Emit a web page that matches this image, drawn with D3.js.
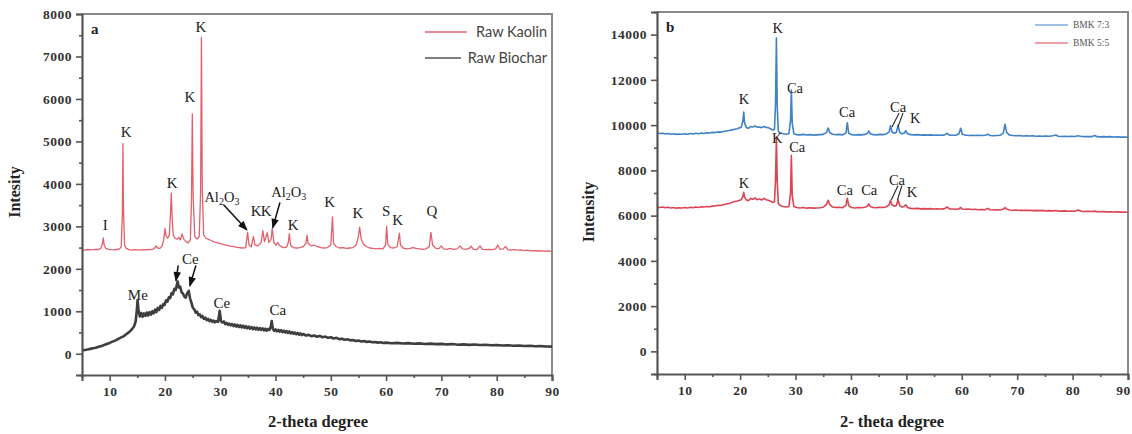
<!DOCTYPE html>
<html>
<head>
<meta charset="utf-8">
<script src="https://cdn.jsdelivr.net/npm/d3@7"></script>
<style>
  html, body { margin: 0; padding: 0; background: #fff; }
  svg { display: block; }
</style>
</head>
<body>
<div id="chart"></div>
<script>
// XRD patterns, panel a (raw materials) and panel b (BMK blends)
const xTicks = [10, 20, 30, 40, 50, 60, 70, 80, 90];
const xMinor = [5, 15, 25, 35, 45, 55, 65, 75, 85];
const yTicksA = [0, 1000, 2000, 3000, 4000, 5000, 6000, 7000, 8000];
const yMinorA = [-500, 500, 1500, 2500, 3500, 4500, 5500, 6500, 7500];
const yTicksB = [0, 2000, 4000, 6000, 8000, 10000, 12000, 14000];
const yMinorB = [-1000, 1000, 3000, 5000, 7000, 9000, 11000, 13000, 15000];

const seriesA = ["Raw Kaolin", "Raw Biochar"];
const seriesB = ["BMK 7:3", "BMK 5:5"];

// [2-theta, intensity]
const rawKaolin = [[5,2450],[5.5,2440],[6,2455],[6.5,2445],[7,2450],[7.5,2460],[8,2455],[8.4,2480],[8.7,2600],[8.85,2730],[9.0,2560],[9.3,2480],[9.8,2460],[10.3,2450],[10.8,2445],[11.3,2455],[11.8,2470],[12.1,2520],[12.3,3300],[12.4,4950],[12.5,3400],[12.7,2560],[13,2480],[13.5,2450],[14,2440],[14.5,2450],[15,2445],[15.5,2440],[16,2450],[16.5,2445],[17,2455],[17.5,2450],[18,2470],[18.4,2540],[18.7,2490],[19.1,2480],[19.5,2540],[19.8,2700],[20.0,2950],[20.2,2780],[20.5,2720],[20.8,2800],[21.0,3300],[21.15,3780],[21.3,3200],[21.5,2800],[21.8,2720],[22.2,2700],[22.5,2740],[22.8,2680],[23.1,2820],[23.4,2700],[23.8,2640],[24.2,2610],[24.6,2680],[24.8,3600],[24.95,5650],[25.1,3700],[25.4,2760],[25.8,2700],[26.2,2760],[26.45,3800],[26.6,7450],[26.75,3900],[27,2800],[27.4,2720],[28,2690],[28.6,2650],[29.2,2620],[29.8,2600],[30.4,2580],[31,2560],[31.6,2540],[32.2,2530],[32.8,2510],[33.4,2500],[34,2490],[34.6,2500],[34.95,2860],[35.2,2560],[35.6,2520],[36.0,2760],[36.3,2560],[36.8,2540],[37.4,2620],[37.7,2900],[38.0,2640],[38.5,2850],[38.8,2620],[39.2,2700],[39.4,2950],[39.7,2620],[40.1,2560],[40.4,2620],[40.8,2540],[41.4,2500],[42.0,2510],[42.3,2620],[42.5,2830],[42.7,2560],[43.2,2500],[43.8,2490],[44.4,2500],[45.0,2520],[45.5,2600],[45.7,2790],[45.9,2600],[46.4,2540],[47,2560],[47.6,2520],[48.2,2500],[48.8,2490],[49.4,2500],[50.0,2560],[50.3,3220],[50.5,2600],[51,2520],[51.6,2490],[52.2,2500],[52.8,2480],[53.4,2490],[54,2500],[54.6,2560],[55.0,2780],[55.2,2980],[55.5,2700],[55.9,2580],[56.5,2520],[57,2490],[57.6,2480],[58.2,2470],[58.8,2480],[59.4,2470],[59.9,2560],[60.1,3000],[60.3,2580],[60.8,2500],[61.4,2490],[62.0,2520],[62.4,2840],[62.6,2560],[63.1,2490],[63.7,2470],[64.3,2480],[64.9,2500],[65.4,2480],[66,2470],[66.6,2460],[67.2,2470],[67.8,2520],[68.1,2860],[68.4,2560],[68.9,2490],[69.5,2470],[70.0,2540],[70.4,2470],[71,2460],[71.6,2480],[72.2,2460],[72.8,2470],[73.4,2540],[73.8,2470],[74.4,2460],[75,2480],[75.4,2530],[75.8,2460],[76.4,2450],[77,2540],[77.4,2460],[78,2450],[78.6,2460],[79.2,2450],[79.8,2470],[80.2,2560],[80.6,2460],[81.2,2470],[81.6,2530],[82,2450],[82.6,2440],[83.2,2450],[83.8,2440],[84.4,2445],[85,2430],[85.6,2440],[86.2,2425],[86.8,2430],[87.4,2420],[88,2425],[88.6,2415],[89.2,2420],[90,2410]];

const rawBiochar = [[5,80],[5.5,90],[6,100],[6.5,115],[7,130],[7.5,140],[8,165],[8.5,180],[9,205],[9.5,230],[10,255],[10.5,285],[11,310],[11.5,345],[12,380],[12.5,410],[13,460],[13.5,510],[14,570],[14.4,640],[14.7,760],[14.9,1000],[15.05,1260],
  [15.2,1050],[15.45,880],[15.7,960],[15.95,870],[16.2,950],[16.45,890],[16.7,970],[16.95,900],[17.2,980],[17.45,920],[17.7,1000],[17.95,950],[18.2,1040],[18.45,980],[18.7,1080],[18.95,1030],[19.2,1130],[19.45,1080],[19.7,1170],[19.95,1150],[20.2,1260],[20.45,1230],[20.7,1330],[20.95,1310],[21.2,1430],[21.45,1400],[21.7,1530],[21.95,1500],[22.15,1620],[22.3,1700],[22.5,1560],[22.75,1580],[23.0,1450],[23.25,1420],[23.5,1350],[23.75,1320],[24.0,1420],[24.3,1480],[24.55,1300],[24.8,1200],[25.05,1080],[25.3,1050],[25.55,970],[25.8,990],[26.05,910],[26.3,930],[26.55,860],[26.8,890],[27.05,820],[27.3,850],[27.55,790],[27.8,820],[28.05,770],[28.3,800],[28.55,750],[28.8,780],[29.05,740],[29.3,770],[29.6,750],[29.9,1010],[30.15,760],[30.4,740],[30.65,760],[30.9,700],[31.15,730],[31.4,680],[31.65,710],[31.9,670],[32.15,700],[32.4,650],[32.65,690],[32.9,640],[33.15,680],[33.4,630],[33.65,670],[33.9,620],[34.15,660],[34.4,610],[34.65,650],[34.9,600],[35.15,640],[35.4,590],[35.65,630],[35.9,580],[36.15,620],[36.4,575],[36.65,615],[36.9,565],[37.15,605],[37.4,560],[37.65,600],[37.9,550],[38.15,590],[38.4,545],[38.65,585],[38.9,560],[39.15,640],[39.3,770],[39.5,600],[39.75,540],[40,575],[40.25,530],[40.5,565],[40.75,520],[41,555],[41.25,510],[41.5,545],[41.75,500],[42,535],[42.25,490],[42.5,525],[42.75,480],[43,510],[43.25,470],[43.5,500],[43.75,460],[44,490],[44.25,450],[44.5,480],[44.75,440],[45,465],
  [45.5,430],[46,445],[46.5,415],[47,430],[47.5,400],[48,420],[48.5,390],[49,405],[49.5,375],[50,390],[50.5,360],[51,375],[51.5,345],[52,355],[52.5,330],[53,340],[53.5,315],[54,325],[54.5,300],[55,310],[55.5,290],[56,298],[56.5,280],[57,288],[57.5,270],[58,278],[58.5,262],[59,270],[59.5,255],[60,262],[61,248],[62,256],[63,240],[64,250],[65,236],[66,244],[67,230],[68,238],[69,226],[70,232],[71,220],[72,228],[73,214],[74,222],[75,210],[76,218],[77,206],[78,212],[79,200],[80,208],[81,196],[82,202],[83,190],[84,196],[85,184],[86,188],[87,176],[88,180],[89,170],[90,168]];

const bmk73 = [[5,9650],[5.5,9630],[6,9640],[6.5,9610],[7,9630],[7.5,9600],[8,9620],[8.5,9590],[9,9610],[9.5,9600],[10,9620],[10.5,9600],[11,9630],[11.5,9610],[12,9640],[12.5,9620],[13,9650],[13.5,9630],[14,9660],[14.5,9650],[15,9680],[15.5,9670],[16,9700],[16.5,9690],[17,9720],[17.5,9740],[18,9760],[18.5,9790],[19,9820],[19.5,9840],[19.9,9880],[20.2,9900],[20.5,10200],[20.65,10580],[20.8,10100],[21.1,9900],[21.5,9860],[21.9,9940],[22.3,9920],[22.7,9960],[23.1,9900],[23.5,9920],[23.9,9890],[24.3,9940],[24.7,9900],[25.1,9880],[25.5,9840],[25.9,9780],[26.2,9820],[26.4,11000],[26.55,13850],[26.7,10800],[26.9,9720],[27.3,9650],[27.8,9620],[28.3,9600],[28.8,9620],[29.1,10200],[29.25,11550],[29.4,10100],[29.7,9620],[30.2,9580],[30.8,9570],[31.4,9590],[32,9560],[32.6,9580],[33.2,9560],[33.8,9570],[34.4,9580],[35,9590],[35.6,9680],[35.9,9870],[36.2,9660],[36.7,9600],[37.3,9580],[37.9,9590],[38.5,9570],[39.1,9650],[39.35,10100],[39.6,9640],[40.1,9580],[40.7,9560],[41.3,9580],[41.9,9570],[42.5,9590],[43.0,9640],[43.2,9740],[43.5,9620],[44,9580],[44.6,9570],[45.2,9590],[45.8,9580],[46.4,9610],[46.9,9700],[47.15,9980],[47.4,9700],[47.8,9640],[48.2,9680],[48.5,10000],[48.8,9680],[49.2,9620],[49.6,9640],[49.9,9750],[50.2,9620],[50.8,9580],[51.4,9570],[52,9580],[52.6,9560],[53.2,9570],[53.8,9560],[54.4,9570],[55,9550],[55.6,9560],[56.2,9550],[56.8,9560],[57.4,9640],[57.8,9560],[58.4,9550],[59,9560],[59.5,9620],[59.8,9860],[60.1,9600],[60.6,9560],[61.2,9540],[61.8,9550],[62.4,9540],[63,9550],[63.6,9540],[64.2,9550],[64.7,9600],[65.1,9540],[65.7,9530],[66.3,9540],[66.9,9550],[67.5,9650],[67.8,10040],[68.1,9680],[68.6,9560],[69.2,9540],[69.8,9530],[70.4,9540],[71,9520],[71.6,9530],[72.2,9520],[72.8,9530],[73.4,9510],[74,9520],[74.6,9510],[75.2,9520],[75.8,9510],[76.4,9530],[77,9560],[77.4,9510],[78,9500],[78.6,9510],[79.2,9500],[79.8,9510],[80.4,9500],[81,9530],[81.6,9500],[82.2,9490],[82.8,9500],[83.4,9490],[84,9540],[84.4,9490],[85,9480],[85.6,9490],[86.2,9480],[86.8,9490],[87.4,9475],[88,9480],[88.6,9470],[89.2,9475],[90,9470]];

const bmk55 = [[5,6370],[5.5,6360],[6,6380],[6.5,6350],[7,6370],[7.5,6340],[8,6360],[8.5,6330],[9,6350],[9.5,6340],[10,6360],[10.5,6340],[11,6370],[11.5,6350],[12,6380],[12.5,6360],[13,6390],[13.5,6380],[14,6400],[14.5,6390],[15,6420],[15.5,6430],[16,6460],[16.5,6450],[17,6490],[17.5,6510],[18,6540],[18.5,6580],[19,6620],[19.5,6650],[19.9,6680],[20.2,6700],[20.5,6850],[20.65,7030],[20.8,6820],[21.1,6700],[21.5,6660],[21.9,6760],[22.3,6720],[22.7,6780],[23.1,6700],[23.5,6740],[23.9,6690],[24.3,6760],[24.7,6700],[25.1,6680],[25.5,6640],[25.9,6580],[26.2,6620],[26.4,7600],[26.55,9470],[26.7,7500],[26.9,6520],[27.3,6440],[27.8,6400],[28.3,6380],[28.8,6400],[29.1,7000],[29.25,8670],[29.4,6900],[29.7,6400],[30.2,6360],[30.8,6340],[31.4,6360],[32,6330],[32.6,6350],[33.2,6330],[33.8,6340],[34.4,6350],[35,6370],[35.6,6500],[35.9,6680],[36.2,6480],[36.7,6380],[37.3,6360],[37.9,6370],[38.5,6350],[39.1,6450],[39.35,6770],[39.6,6440],[40.1,6360],[40.7,6340],[41.3,6360],[41.9,6350],[42.5,6370],[43.0,6420],[43.2,6520],[43.5,6400],[44,6360],[44.6,6350],[45.2,6370],[45.8,6360],[46.4,6390],[46.9,6480],[47.15,6680],[47.4,6480],[47.8,6420],[48.2,6450],[48.5,6700],[48.8,6450],[49.2,6380],[49.6,6400],[49.9,6480],[50.2,6360],[50.8,6320],[51.4,6310],[52,6320],[52.6,6300],[53.2,6310],[53.8,6300],[54.4,6310],[55,6290],[55.6,6300],[56.2,6290],[56.8,6300],[57.4,6380],[57.8,6300],[58.4,6290],[59,6280],[59.5,6300],[59.8,6360],[60.1,6290],[60.6,6280],[61.2,6290],[61.8,6270],[62.4,6280],[63,6260],[63.6,6270],[64.2,6260],[64.7,6320],[65.1,6260],[65.7,6250],[66.3,6260],[66.9,6250],[67.5,6290],[67.8,6360],[68.1,6290],[68.6,6250],[69.2,6240],[69.8,6250],[70.4,6230],[71,6240],[71.6,6230],[72.2,6240],[72.8,6220],[73.4,6230],[74,6220],[74.6,6230],[75.2,6210],[75.8,6220],[76.4,6210],[77,6230],[77.4,6200],[78,6200],[78.6,6210],[79.2,6195],[79.8,6200],[80.4,6190],[81,6250],[81.6,6190],[82.2,6185],[82.8,6190],[83.4,6180],[84,6200],[84.4,6175],[85,6170],[85.6,6175],[86.2,6165],[86.8,6170],[87.4,6160],[88,6165],[88.6,6155],[89.2,6160],[90,6150]];

// peak labels [text, 2-theta, intensity]
const peaksA = [["I",9.2,3040],["K",13.0,5210],["K",21.3,4030],["K",24.5,6040],["K",26.5,7690],
  ["K",36.5,3350],["K",38.3,3350],["K",43.2,3040],["K",49.8,3580],["K",54.9,3320],
  ["S",60.0,3370],["K",62.1,3160],["Q",68.3,3350],
  ["Ce",24.6,2220],["Me",15.1,1390],["Ce",30.3,1200],["Ca",40.4,1030]];
const oxidesA = [[30.3,3700],[42.4,3820]];
// arrows [from theta, from I, to theta, to I]
const arrowsA = [[30.6,3510,34.8,2920],[40.8,3560,39.5,2970],[22.4,2080,22.0,1720],[25.6,2080,24.5,1600]];

const peaksB = [["K",26.8,14290],["K",20.7,11160],["Ca",29.9,11640],["Ca",39.3,10580],["Ca",48.5,10800],["K",51.6,10320],
  ["K",26.7,9430],["Ca",30.3,9030],["K",20.7,7440],["Ca",38.9,7130],["Ca",43.3,7130],["Ca",48.3,7580],["K",51.0,7050]];
const ticksB = [[48.7,10540,47.4,9920],[49.4,10540,48.5,9920],[48.5,7330,47.3,6700],[49.2,7330,48.4,6700]];

const W = 1132, H = 434;
const svg = d3.select("#chart").append("svg").attr("width", W).attr("height", H);

svg.append("defs").append("marker")
    .attr("id", "arr")
    .attr("viewBox", "0 0 8 6")
    .attr("refX", 7).attr("refY", 3)
    .attr("markerWidth", 7).attr("markerHeight", 5)
    .attr("orient", "auto")
    .append("path").attr("d", "M0,0 L8,3 L0,6 z").attr("fill", "#111");

const serif = "'Liberation Serif', 'Times New Roman', serif";

function panel(opt) {
    const x = d3.scaleLinear().domain([5, 90]).range(opt.xr);
    const y = d3.scaleLinear().domain(opt.yd).range(opt.yr);
    const g = svg.append("g");

    // frame top/right
    g.append("path")
        .attr("d", `M${opt.xr[0]},${opt.yr[1]} H${opt.xr[1]} V${opt.yr[0]}`)
        .attr("fill", "none").attr("stroke", "#8a8a8a").attr("stroke-width", 2);

    const line = d3.line().x(d => x(d[0])).y(d => y(d[1]));
    opt.series.forEach(s => {
        g.append("path").datum(s.data)
            .attr("d", line)
            .attr("fill", "none")
            .attr("stroke", s.color)
            .attr("stroke-width", s.w)
            .attr("stroke-linejoin", "round");
    });

    // axes
    const ax = g.append("g").attr("transform", `translate(0,${opt.yr[0]})`)
        .call(d3.axisBottom(x).tickValues(xTicks).tickSize(6).tickPadding(5).tickFormat(d3.format("d")));
    g.append("g").attr("transform", `translate(0,${opt.yr[0]})`)
        .call(d3.axisBottom(x).tickValues(xMinor).tickSize(3).tickFormat(""))
        .call(a => a.select(".domain").remove());
    const ay = g.append("g").attr("transform", `translate(${opt.xr[0]},0)`)
        .call(d3.axisLeft(y).tickValues(opt.yTicks).tickSize(6).tickPadding(4).tickFormat(d3.format("d")));
    g.append("g").attr("transform", `translate(${opt.xr[0]},0)`)
        .call(d3.axisLeft(y).tickValues(opt.yMinor).tickSize(3).tickFormat(""))
        .call(a => a.select(".domain").remove());

    g.selectAll(".domain").attr("stroke", "#555").attr("stroke-width", 2.2);
    g.selectAll(".tick line").attr("stroke", "#555").attr("stroke-width", 1.6);
    [ax, ay].forEach(a => {
        a.attr("font-family", null).attr("font-size", null);
        a.selectAll("text")
            .style("font-family", serif).style("font-weight", "bold")
            .style("font-size", "13.5px").attr("letter-spacing", 0.5).attr("fill", "#333");
    });
    // last x label sits on the right edge of the page, keep it inside
    ax.selectAll(".tick").filter(d => d === 90).select("text").attr("dx", opt.lastDx || 0);

    // axis titles
    g.append("text")
        .attr("x", opt.xTitle[0]).attr("y", opt.xTitle[1])
        .attr("text-anchor", "middle")
        .attr("font-family", serif).attr("font-weight", "bold").attr("font-size", 16.5)
        .attr("fill", "#222").text(opt.xLabel);
    g.append("text")
        .attr("transform", `translate(${opt.yTitle[0]},${opt.yTitle[1]}) rotate(-90)`)
        .attr("text-anchor", "middle")
        .attr("font-family", serif).attr("font-weight", "bold").attr("font-size", 16)
        .attr("fill", "#222").text(opt.yLabel);

    // panel letter
    g.append("text")
        .attr("x", opt.xr[0] + 9).attr("y", opt.yr[1] + 20)
        .attr("font-family", serif).attr("font-weight", "bold").attr("font-size", 15)
        .attr("fill", "#222").text(opt.letter);

    return { g, x, y };
}

// ---- panel a
const pa = panel({
    xr: [82, 552], yr: [375, 14], yd: [-500, 8000],
    yTicks: yTicksA, yMinor: yMinorA,
    series: [{ data: rawBiochar, color: "#3e3e3e", w: 2.6 }, { data: rawKaolin, color: "#e2606b", w: 1.3 }],
    xLabel: "2-theta degree", yLabel: "Intesity", letter: "a",
    xTitle: [318, 427], yTitle: [20, 192]
});

pa.g.selectAll(".peakA").data(peaksA).enter().append("text")
    .attr("x", d => pa.x(d[1])).attr("y", d => pa.y(d[2]))
    .attr("text-anchor", "middle").attr("dominant-baseline", "central")
    .attr("font-family", serif).attr("font-size", 15).attr("fill", "#222")
    .text(d => d[0]);

oxidesA.forEach(d => {
    const t = pa.g.append("text")
        .attr("x", pa.x(d[0])).attr("y", pa.y(d[1]))
        .attr("text-anchor", "middle").attr("dominant-baseline", "central")
        .attr("font-family", serif).attr("font-size", 14.5).attr("fill", "#222");
    t.append("tspan").text("Al");
    t.append("tspan").attr("font-size", 10).attr("dy", 4).text("2");
    t.append("tspan").attr("dy", -4).text("O");
    t.append("tspan").attr("font-size", 10).attr("dy", 4).text("3");
});

pa.g.selectAll(".arrA").data(arrowsA).enter().append("line")
    .attr("x1", d => pa.x(d[0])).attr("y1", d => pa.y(d[1]))
    .attr("x2", d => pa.x(d[2])).attr("y2", d => pa.y(d[3]))
    .attr("stroke", "#111").attr("stroke-width", 1.5)
    .attr("marker-end", "url(#arr)");

// legend a
const legA = pa.g.append("g").attr("font-family", "Lato, 'Open Sans', sans-serif").attr("font-size", 14.5);
seriesA.forEach((name, i) => {
    const yy = 32 + i * 26;
    legA.append("line").attr("x1", 425).attr("x2", i ? 461 : 467).attr("y1", yy).attr("y2", yy)
        .attr("stroke", i ? "#555" : "#e2606b").attr("stroke-width", 1.3);
    legA.append("text").attr("x", 547).attr("y", yy).attr("dy", "0.35em")
        .attr("text-anchor", "end").attr("fill", "#444").text(name);
});

// ---- panel b
const pb = panel({
    xr: [657, 1128], yr: [374, 12], yd: [-1000, 15000],
    yTicks: yTicksB, yMinor: yMinorB, lastDx: -5,
    series: [{ data: bmk73, color: "#3f82c8", w: 1.6 }, { data: bmk55, color: "#dc4452", w: 1.6 }],
    xLabel: "2- theta degree", yLabel: "Intensity", letter: "b",
    xTitle: [892, 427], yTitle: [594, 212]
});

pb.g.selectAll(".peakB").data(peaksB).enter().append("text")
    .attr("x", d => pb.x(d[1])).attr("y", d => pb.y(d[2]))
    .attr("text-anchor", "middle").attr("dominant-baseline", "central")
    .attr("font-family", serif).attr("font-size", 14.5).attr("fill", "#222")
    .text(d => d[0]);

pb.g.selectAll(".tkB").data(ticksB).enter().append("line")
    .attr("x1", d => pb.x(d[0])).attr("y1", d => pb.y(d[1]))
    .attr("x2", d => pb.x(d[2])).attr("y2", d => pb.y(d[3]))
    .attr("stroke", "#222").attr("stroke-width", 1.1);

// legend b
const legB = pb.g.append("g").attr("font-family", serif).attr("font-size", 9.5);
seriesB.forEach((name, i) => {
    const yy = 25 + i * 18;
    legB.append("line").attr("x1", 1035).attr("x2", 1068).attr("y1", yy).attr("y2", yy)
        .attr("stroke", i ? "#dc4452" : "#3f82c8").attr("stroke-width", 1.2);
    legB.append("text").attr("x", 1073).attr("y", yy).attr("dy", "0.35em")
        .attr("fill", "#555").text(name);
});
</script>
</body>
</html>
